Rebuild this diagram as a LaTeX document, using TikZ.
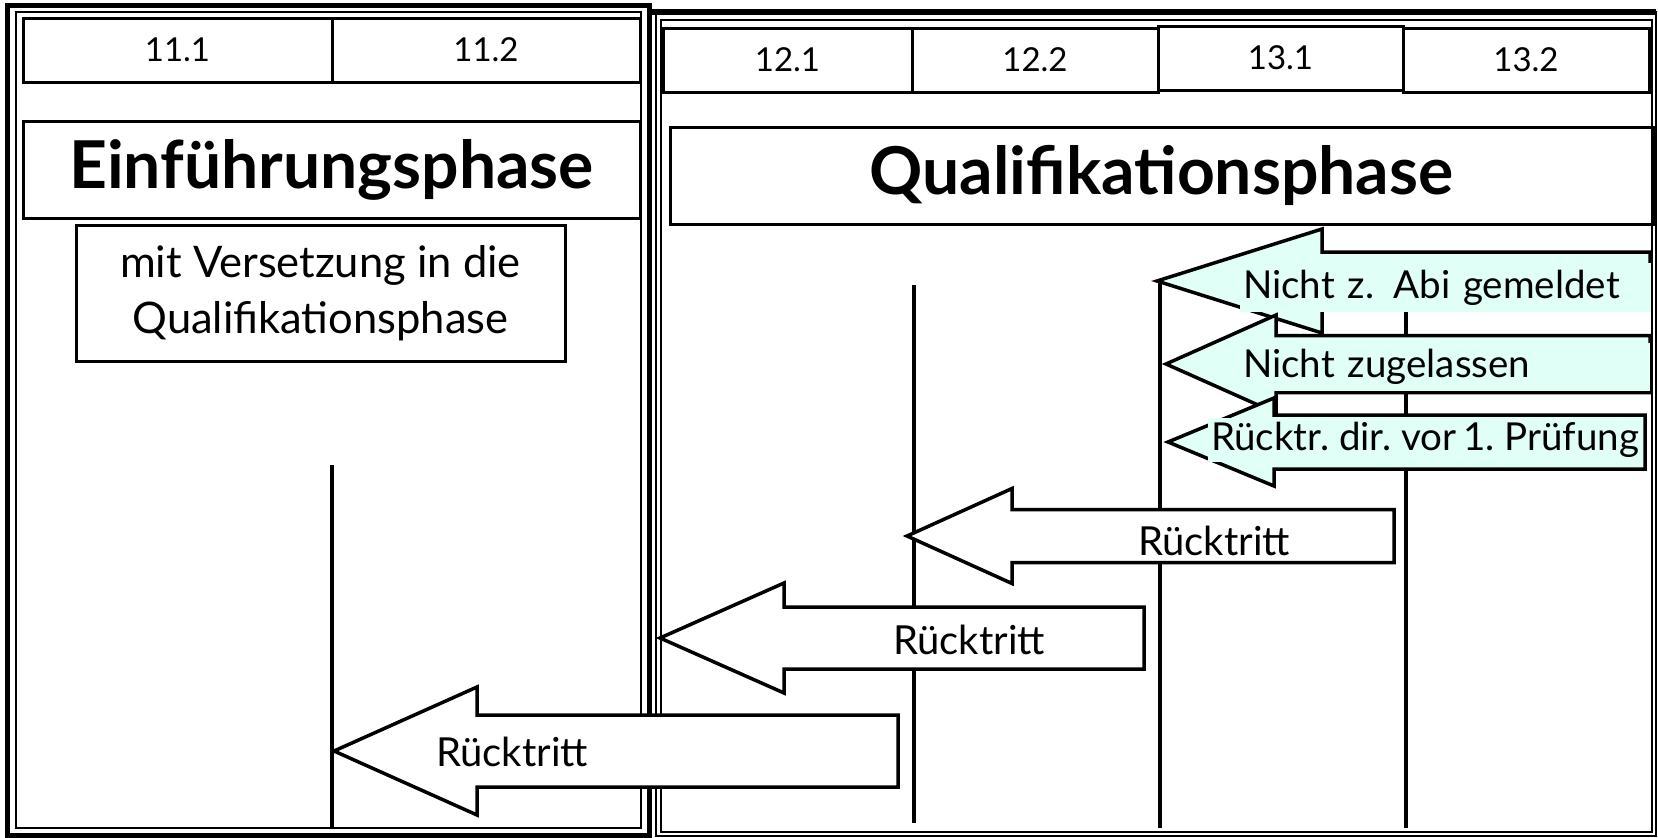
\documentclass[tikz,border=0pt]{standalone}
\usepackage{fontspec}
\setmainfont{Lato}
\definecolor{qcyan}{RGB}{224,255,247}
\newcommand{\blockarrow}[7]{%
  \filldraw[#1] (#2,#3) -- (#4,{#3-#5}) -- (#4,{#3-#6}) -- (#7,{#3-#6}) -- (#7,{#3+#6}) -- (#4,{#3+#6}) -- (#4,{#3+#5}) -- cycle;}
\begin{document}
\begin{tikzpicture}[x=1pt,y=-1pt,
  thickframe/.style={line width=5pt},
  thinframe/.style={line width=1.5pt},
  cell/.style={draw, line width=3pt, inner sep=0pt, minimum height=64pt, font=\fontsize{33}{40}\selectfont},
  phasebox/.style={draw, line width=3pt, inner sep=0pt, minimum height=97pt},
  phasetext/.style={font=\fontsize{66}{78}\selectfont\bfseries},
  timeline/.style={line width=4.5pt},
  arrowshape/.style={draw=black, line width=3.5pt, line join=miter},
  cyanarrow/.style={arrowshape, fill=qcyan},
  whitearrow/.style={arrowshape, fill=white},
  cyantext/.style={fill=qcyan, inner xsep=3pt, inner ysep=0pt, font=\fontsize{38.5}{44}\selectfont},
  backtext/.style={inner sep=0pt, font=\fontsize{40}{46}\selectfont}]
\useasboundingbox (0,0) rectangle (1658,838);
\fill[white] (0,0) rectangle (1658,838);
% left frame
\draw[thickframe] (7,5.5) rectangle (649,835);
\draw[thinframe] (16,12) rectangle (641,828);
% right frame
\draw[line width=2pt] (656,12) rectangle (1656,836);
\draw[line width=6pt] (650,12) -- (1656,12);
\draw[thinframe] (661,20) rectangle (1652,832);
% header cells
\node[cell, minimum width=309pt] (c111) at (177.5,50) {11.1};
\node[cell, minimum width=308pt] (c112) at (486,50) {11.2};
\node[cell, minimum width=249pt] (c121) at (787.5,60) {12.1};
\node[cell, minimum width=246pt] (c122) at (1035,60) {12.2};
\node[cell, minimum width=245pt] (c131) at (1280.5,58) {13.1};
\node[cell, minimum width=246pt] (c132) at (1526,60) {13.2};
% phase boxes
\node[phasebox, minimum width=617pt, phasetext] (einf) at (331.5,169.5) {Einführungsphase};
\node[draw, line width=3pt, inner sep=0pt, minimum width=489pt, minimum height=136pt, align=center,
      font=\fontsize{43.5}{56}\selectfont] (vers) at (320.5,293) {mit Versetzung in die\\Qualifikationsphase};
\node[phasebox, minimum width=983pt, phasetext] (qual) at (1161.5,175.5) {Qualifikationsphase};
% time lines
\coordinate (t1a) at (332,465); \coordinate (t1b) at (332,828);
\coordinate (t2a) at (914,285); \coordinate (t2b) at (914,823);
\coordinate (t3a) at (1160,283); \coordinate (t3b) at (1160,828);
\coordinate (t4a) at (1406,283); \coordinate (t4b) at (1406,828);
\draw[timeline] (t1a) -- (t1b);
\draw[timeline] (t2a) -- (t2b);
\draw[timeline] (t3a) -- (t3b);
\draw[timeline] (t4a) -- (t4b);
% white arrows
\blockarrow{whitearrow}{334}{751}{477}{64}{36}{898}
\node[backtext] (rf) at (512,752) {Rücktritt};
\blockarrow{whitearrow}{660}{638}{784}{55}{31}{1144}
\node[backtext] (re) at (969,640) {Rücktritt};
\blockarrow{whitearrow}{907}{536}{1012}{47.5}{26.5}{1394}
\node[backtext] (rd) at (1214,541) {Rücktritt};
% cyan arrows
\blockarrow{cyanarrow}{1157}{281}{1322}{52}{29}{1650}
\node[cyantext, minimum width=411pt, minimum height=49pt, anchor=west, text width=405pt, align=left] (na) at (1240,287.5) {Nicht z.\hspace{0.5em}Abi gemeldet};
\blockarrow{cyanarrow}{1166}{364}{1276}{49}{28.5}{1650}
\node[cyantext, minimum height=48pt, anchor=west, text width=404pt, align=left] (nb) at (1240,367) {Nicht zugelassen};
\blockarrow{cyanarrow}{1168}{442}{1274}{44}{27}{1645}
\node[cyantext, minimum height=44pt, anchor=center] (nc) at (1425,440) {\spaceskip=0.17em Rücktr. dir. vor 1. Prüfung};
\end{tikzpicture}
\end{document}
